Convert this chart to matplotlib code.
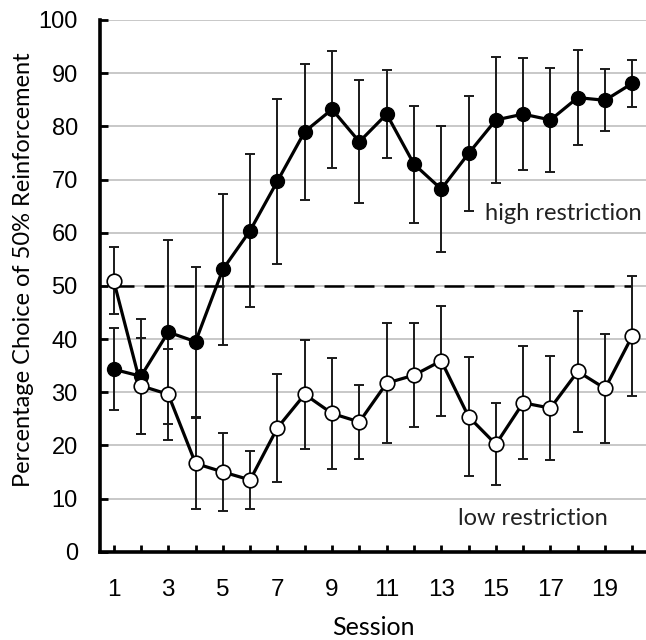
import numpy as np
import matplotlib.pyplot as plt

# Choice of 50% reinforcement across sessions

sessions = np.arange(1, 21)

high_mean = [34.3, 33.0, 41.3, 39.5, 53.1, 60.4, 69.7, 79.0, 83.2, 77.1,
             82.3, 72.9, 68.2, 74.9, 81.2, 82.3, 81.2, 85.4, 84.9, 88.1]
high_err = [7.7, 10.8, 17.3, 14.1, 14.2, 14.4, 15.5, 12.8, 11.0, 11.6,
            8.3, 11.0, 11.9, 10.9, 11.9, 10.6, 9.7, 9.0, 5.8, 4.4]

low_mean = [51.0, 31.2, 29.6, 16.6, 15.0, 13.5, 23.3, 29.6, 26.0, 24.4,
            31.7, 33.2, 35.9, 25.4, 20.2, 28.0, 27.0, 33.9, 30.7, 40.6]
low_err = [6.3, 9.0, 8.5, 8.6, 7.3, 5.5, 10.2, 10.2, 10.4, 7.0,
           11.3, 9.8, 10.4, 11.2, 7.7, 10.6, 9.8, 11.3, 10.2, 11.3]

chance = [50, 50]
chance_x = [1, 20]

yticks = np.arange(0, 101, 10)
xlabels = [str(s) if s % 2 == 1 else '' for s in sessions]

fig = plt.figure(figsize=(6.46, 6.4), dpi=100)
ax = fig.add_axes([100/646, 88.3/640, 546/646, 531.7/640])

for y in yticks[1:]:
    ax.axhline(y, color='#c4c4c4', lw=1.3, zorder=0)

ax.plot(chance_x, chance, color='black', lw=1.8, ls=(0, (8, 4)), zorder=1)

ax.errorbar(sessions, high_mean, yerr=high_err, fmt='none', ecolor='#1a1a1a',
            elinewidth=1.4, capsize=3.5, capthick=1.4, zorder=2)
ax.errorbar(sessions, low_mean, yerr=low_err, fmt='none', ecolor='#1a1a1a',
            elinewidth=1.4, capsize=3.5, capthick=1.4, zorder=2)

ax.plot(sessions, high_mean, color='black', lw=2.3, marker='o', ms=10,
        mfc='black', mec='black', zorder=3)
ax.plot(sessions, low_mean, color='black', lw=2.3, marker='o', ms=10.5,
        mfc='white', mec='black', mew=1.2, zorder=4)

ax.text(17.48, 63.7, 'high restriction', fontsize=17, family='Lato',
        ha='center', va='center', color='#222222')
ax.text(16.34, 6.3, 'low restriction', fontsize=17, family='Lato',
        ha='center', va='center', color='#222222')

ax.set_xlim(0.5, 20.5)
ax.set_ylim(0, 100)
ax.set_yticks(yticks)
ax.set_xticks(sessions)
ax.set_xticklabels(xlabels)

for s in ['top', 'right']:
    ax.spines[s].set_visible(False)
for s in ['left', 'bottom']:
    ax.spines[s].set_linewidth(2.6)

ax.tick_params(axis='y', direction='in', length=6, width=2, pad=16,
               labelsize=17)
ax.tick_params(axis='x', direction='in', length=5, width=2, pad=20,
               labelsize=17.5)
for lab in ax.get_xticklabels() + ax.get_yticklabels():
    lab.set_family('Liberation Sans')

ax.set_ylabel('Percentage Choice of 50% Reinforcement', fontsize=17,
              family='Lato')
ax.yaxis.set_label_coords(-0.12, 0.53)
ax.set_xlabel('Session', fontsize=18, family='Lato')
ax.xaxis.set_label_coords(0.5, -0.121)

fig.savefig('out.png', dpi=100)
